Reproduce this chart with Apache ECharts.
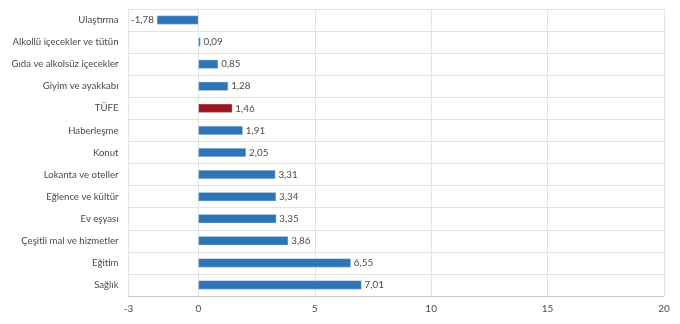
<!DOCTYPE html>
<html>
<head>
<meta charset="utf-8">
<script src="https://cdn.jsdelivr.net/npm/echarts@6/dist/echarts.min.js"></script>
<style>html,body{margin:0;padding:0;background:#fff;}#c{width:680px;height:324px;}</style>
</head>
<body>
<div id="c"></div>
<script>
const categories = ["Ulaştırma","Alkollü içecekler ve tütün","Gıda ve alkolsüz içecekler","Giyim ve ayakkabı","TÜFE","Haberleşme","Konut","Lokanta ve oteller","Eğlence ve kültür","Ev eşyası","Çeşitli mal ve hizmetler","Eğitim","Sağlık"];
const values = [-1.78,0.09,0.85,1.28,1.46,1.91,2.05,3.31,3.34,3.35,3.86,6.55,7.01];
const highlight = "TÜFE";
const xTicks = [-3,0,5,10,15,20];

const blue = "#2E75B6", red = "#A0161F";
const chart = echarts.init(document.getElementById('c'), null, {renderer:'canvas'});
const font = "Lato, 'Open Sans', sans-serif";
chart.setOption({
  animation:false,
  grid:{left:128.5, right:16, top:9, bottom:28, containLabel:false, outerBoundsMode:'none'},
  xAxis:{
    type:'value', min:-3, max:20,
    axisLine:{show:true, lineStyle:{color:'#c8c8c8'}},
    axisTick:{show:false, customValues:xTicks},
    axisLabel:{customValues:xTicks, color:'#4a4a4a', fontSize:10, fontFamily:font, margin:8},
    splitLine:{show:true, lineStyle:{color:'#e3e3e3'}}
  },
  yAxis:{
    type:'category', data:categories, inverse:true,
    axisLine:{show:true, lineStyle:{color:'#e3e3e3'}},
    axisTick:{show:false},
    axisLabel:{color:'#4a4a4a', fontSize:9.6, fontFamily:font, margin:10},
    splitLine:{show:true, lineStyle:{color:'#e3e3e3'}}
  },
  series:[{
    type:'bar', barWidth:9,
    data: values.map((v,i)=>({value:v,
      itemStyle:{color: categories[i]===highlight?red:blue},
      label: v<0?{position:'left'}:undefined})),
    itemStyle:{borderColor:'rgba(200,220,240,0.8)', borderWidth:0.5},
    label:{show:true, position:'right', color:'#4a4a4a', fontSize:9.8, fontFamily:font, distance:3,
      formatter:p=>p.value.toFixed(2).replace('.',',')}
  }]
});
</script>
</body>
</html>
